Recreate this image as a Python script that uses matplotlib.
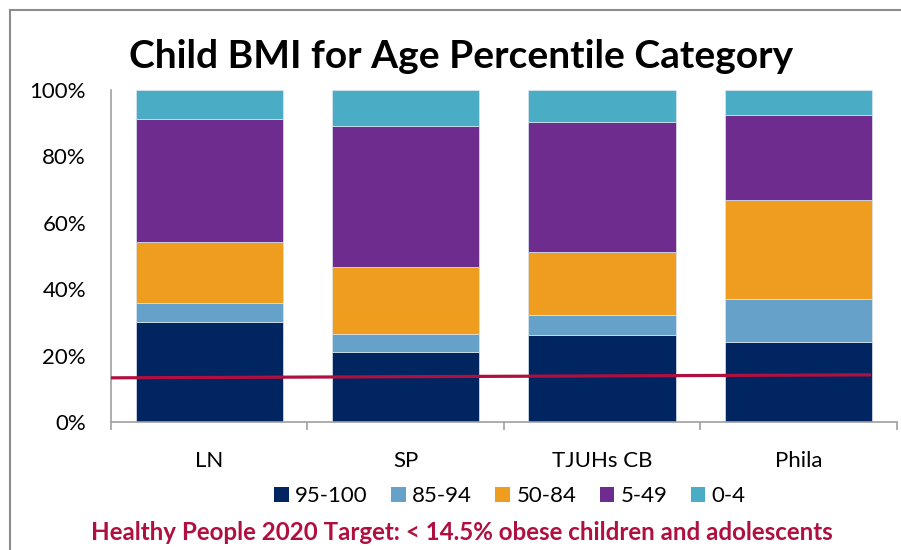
import numpy as np
import matplotlib
matplotlib.use("Agg")
import matplotlib.pyplot as plt
from matplotlib.lines import Line2D
from matplotlib.patches import Patch

plt.rcParams['font.family'] = ['Lato', 'DejaVu Sans']

# data (percent of children per BMI-for-age percentile band)
sites = ["LN", "SP", "TJUHs CB", "Phila"]
bands = ["95-100", "85-94", "50-84", "5-49", "0-4"]
pct_95_100 = [30.1, 21.2, 26.3, 24.1]
pct_85_94 = [5.6, 5.4, 5.9, 12.9]
pct_50_84 = [18.6, 20.0, 19.1, 29.9]
pct_5_49 = [37.0, 42.6, 39.1, 25.5]
pct_0_4 = [8.7, 10.8, 9.6, 7.6]
target_line = [13.3, 14.2]  # hand-drawn target line, left end / right end

colors = ["#002561", "#65A1C9", "#EE9D1E", "#6E2C8E", "#4BACC6"]

fig = plt.figure(figsize=(9.01, 5.5), dpi=100)
ax = fig.add_axes([111 / 901, 1 - 422 / 550, (896.5 - 111) / 901, (422 - 90) / 550])

x = np.arange(len(sites))
bottom = np.zeros(len(sites))
for vals, col, lab in zip([pct_95_100, pct_85_94, pct_50_84, pct_5_49, pct_0_4], colors, bands):
    ax.bar(x, vals, 0.75, bottom=bottom, color=col, label=lab,
           edgecolor="#DDE6F0", linewidth=0.5)
    bottom += np.array(vals)

# target line
ax.plot([-0.5, 3.37], target_line, color="#B0103F", linewidth=2.3, solid_capstyle="butt",
        zorder=5)

ax.set_xlim(-0.5, 3.5)
ax.set_ylim(0, 100)
ax.set_yticks([0, 20, 40, 60, 80, 100])
ax.set_yticklabels([f"{v}%" for v in [0, 20, 40, 60, 80, 100]], fontsize=16)
ax.tick_params(axis="y", length=0, pad=18)
ax.set_xticks([-0.5, 0.5, 1.5, 2.5, 3.5])
ax.set_xticklabels([])
ax.set_xticks(x, minor=True)
ax.set_xticklabels(sites, minor=True, fontsize=16)
ax.tick_params(axis="x", which="major", length=6, color="#A0A0A0", width=1.2)
ax.tick_params(axis="x", which="minor", length=0, pad=21)
for s in ["top", "right"]:
    ax.spines[s].set_visible(False)
for s in ["left", "bottom"]:
    ax.spines[s].set_color("#A0A0A0")
    ax.spines[s].set_linewidth(1.2)

fig.text(461 / 901, 1 - 57 / 550, "Child BMI for Age Percentile Category",
         ha="center", va="center", fontsize=28, fontweight="bold")

handles = [Patch(facecolor=c, edgecolor="none") for c in colors]
fig.legend(handles, bands, loc="center", bbox_to_anchor=(510 / 901, 1 - 496 / 550),
           ncol=5, frameon=False, fontsize=16, handlelength=0.64, handleheight=0.64,
           handletextpad=0.3, columnspacing=1.05, borderpad=0, borderaxespad=0)

fig.text(462 / 901, 1 - 533 / 550,
         "Healthy People 2020 Target: < 14.5% obese children and adolescents",
         ha="center", va="center", fontsize=17.4, fontweight="bold", color="#B0103F")

# outer frame (left and top edges visible)
fig.add_artist(Line2D([10 / 901, 10 / 901], [0, 1 - 10 / 550], color="#8C8C8C", linewidth=1.5))
fig.add_artist(Line2D([10 / 901, 1], [1 - 10 / 550, 1 - 10 / 550], color="#8C8C8C", linewidth=1.5))

fig.savefig("out.png", dpi=100)
